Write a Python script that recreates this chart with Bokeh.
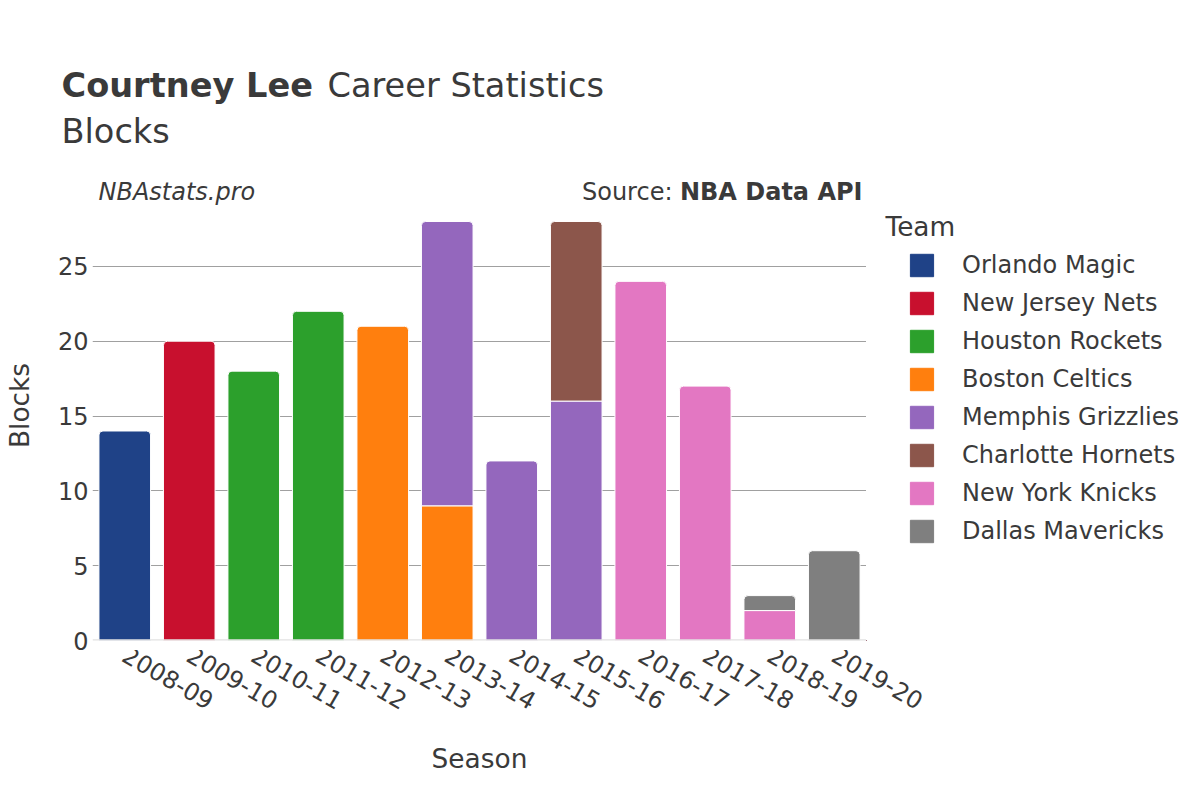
import math
from bokeh.plotting import figure
from bokeh.models import (ColumnDataSource, FactorRange, Range1d, Label, Legend, LegendItem,
                          Span, FixedTicker)
from bokeh.layouts import column, row
from bokeh.embed import file_html
from bokeh.resources import INLINE

seasons = ["2008-09", "2009-10", "2010-11", "2011-12", "2012-13", "2013-14",
           "2014-15", "2015-16", "2016-17", "2017-18", "2018-19", "2019-20"]
teams = ["Orlando Magic", "New Jersey Nets", "Houston Rockets", "Boston Celtics",
         "Memphis Grizzlies", "Charlotte Hornets", "New York Knicks", "Dallas Mavericks"]
colors = ["#1f4287", "#c8102e", "#2ca02c", "#ff7f0e", "#9467bd", "#8c564b", "#e377c2", "#7f7f7f"]

orlando_magic     = [14, 0, 0, 0, 0, 0, 0, 0, 0, 0, 0, 0]
new_jersey_nets   = [0, 20, 0, 0, 0, 0, 0, 0, 0, 0, 0, 0]
houston_rockets   = [0, 0, 18, 22, 0, 0, 0, 0, 0, 0, 0, 0]
boston_celtics    = [0, 0, 0, 0, 21, 9, 0, 0, 0, 0, 0, 0]
memphis_grizzlies = [0, 0, 0, 0, 0, 19, 12, 16, 0, 0, 0, 0]
charlotte_hornets = [0, 0, 0, 0, 0, 0, 0, 12, 0, 0, 0, 0]
new_york_knicks   = [0, 0, 0, 0, 0, 0, 0, 0, 24, 17, 2, 0]
dallas_mavericks  = [0, 0, 0, 0, 0, 0, 0, 0, 0, 0, 1, 6]

series = [orlando_magic, new_jersey_nets, houston_rockets, boston_celtics,
          memphis_grizzlies, charlotte_hornets, new_york_knicks, dallas_mavericks]

FONT = "DejaVu Sans"
TXT = "#3a3a3a"

# ---- layout geometry (page pixels) ----
TOTAL_W = 1184
HEADER_H = 170
LEFT = 92
FRAME_R = 866
ZERO_Y = 640
PLOT_TOP = 199
BODY_PAD = 10          # room below the frame for the "0" tick label
STRIP_H = 140
STRIP_FRAME = 1
BL = 0.37  # baseline correction (em)

segs = {"top": dict(x=[], bottom=[], top=[], color=[], team=[]),
        "mid": dict(x=[], bottom=[], top=[], color=[], team=[])}
totals = []
for i, s in enumerate(seasons):
    base = 0
    vals = [(t, series[j][i], colors[j]) for j, t in enumerate(teams) if series[j][i] > 0]
    for k, (t, v, c) in enumerate(vals):
        key = "top" if k == len(vals) - 1 else "mid"
        segs[key]["x"].append(s)
        segs[key]["bottom"].append(base)
        segs[key]["top"].append(base + v)
        segs[key]["color"].append(c)
        segs[key]["team"].append(t)
        base += v
    totals.append(base)

ymax = max(totals) * 1.0525
y_end = ymax * (ZERO_Y - HEADER_H) / (ZERO_Y - PLOT_TOP)


def label(text, x, y, size, style="normal", align="left", angle=0):
    return Label(x=x, y=y + BL * size, x_units="screen", y_units="screen", text=text,
                 text_font=FONT, text_font_size=f"{size}px", text_font_style=style,
                 text_color=TXT, text_align=align, text_baseline="alphabetic", angle=angle)


def blank(w, h, bottom=0):
    f = figure(width=w, height=h, output_backend="svg", toolbar_location=None,
               x_range=Range1d(0, 1), y_range=Range1d(0, 1),
               x_axis_location=None, y_axis_location=None,
               min_border_left=0, min_border_right=0, min_border_top=0,
               min_border_bottom=bottom)
    f.outline_line_color = None
    f.grid.visible = False
    return f


# ---- header ----
header = blank(TOTAL_W, HEADER_H)
header.add_layout(label("Courtney Lee", 61, HEADER_H - 97, 33.6, "bold"))
header.add_layout(label("Career Statistics", 327, HEADER_H - 97, 33.6))
header.add_layout(label("Blocks", 61, HEADER_H - 143, 33.6))

# ---- main chart ----
xr = FactorRange(factors=seasons, range_padding=0)
p = figure(width=FRAME_R, height=ZERO_Y - HEADER_H + BODY_PAD, output_backend="svg",
           toolbar_location=None, x_range=xr, y_range=Range1d(0, y_end), x_axis_location=None,
           min_border_left=LEFT, min_border_right=0, min_border_top=0,
           min_border_bottom=BODY_PAD)
p.outline_line_color = None

p.add_layout(Span(location=0, dimension="width", line_color="#e2e2e2", line_width=2.5))

p.vbar(x="x", bottom="bottom", top="top", width=0.8, source=ColumnDataSource(segs["mid"]),
       fill_color="color", line_color="white", line_width=1)
p.vbar(x="x", bottom="bottom", top="top", width=0.8, source=ColumnDataSource(segs["top"]),
       fill_color="color", line_color="white", line_width=1, border_radius=(4, 4, 0, 0))

p.yaxis.ticker = FixedTicker(ticks=[0, 5, 10, 15, 20, 25])
p.yaxis.major_label_text_font = FONT
p.yaxis.major_label_text_font_size = "24px"
p.yaxis.major_label_text_color = TXT
p.yaxis.major_label_standoff = 4
p.yaxis.major_tick_out = 0
p.yaxis.major_tick_in = 0
p.yaxis.axis_line_color = None
p.yaxis.major_tick_line_color = None
p.yaxis.minor_tick_line_color = None
p.yaxis.axis_label = "Blocks"
p.yaxis.axis_label_text_font = FONT
p.yaxis.axis_label_text_font_size = "26.4px"
p.yaxis.axis_label_text_font_style = "normal"
p.yaxis.axis_label_text_color = TXT
p.yaxis.axis_label_standoff = 20

p.xgrid.grid_line_color = None
p.ygrid.ticker = FixedTicker(ticks=[5, 10, 15, 20, 25])
p.ygrid.grid_line_color = "#a0a0a0"
p.ygrid.grid_line_width = 1

# frame-relative: x = X - LEFT, y = ZERO_Y - Y
p.add_layout(label("NBAstats.pro", 98 - LEFT, ZERO_Y - 200, 24, "italic"))
p.add_layout(label("NBA Data API", 862 - LEFT, ZERO_Y - 200, 24, "bold", align="right"))
p.add_layout(label("Source:", 672 - LEFT, ZERO_Y - 200, 24, align="right"))

# ---- legend panel ----
lf = blank(TOTAL_W - FRAME_R, ZERO_Y - HEADER_H + BODY_PAD, bottom=BODY_PAD)
items = []
for t, c in zip(teams, colors):
    r = lf.vbar(x=[-10], bottom=[-10], top=[-9], width=0.5, fill_color=c, line_color=c)
    items.append(LegendItem(label=t, renderers=[r]))

legend = Legend(items=items, location=(910 - FRAME_R - 3, ZERO_Y - 550),
                padding=0, margin=0, spacing=0, glyph_width=29, glyph_height=28,
                label_height=38, label_standoff=26,
                label_text_font=FONT, label_text_font_size="24px", label_text_color=TXT,
                border_line_color=None, background_fill_alpha=0)
lf.add_layout(legend, "center")
lf.add_layout(label("Team", 885 - FRAME_R, ZERO_Y - 236, 26.4))

# ---- x axis strip ----
strip = figure(width=TOTAL_W, height=STRIP_H, output_backend="svg", toolbar_location=None,
               x_range=xr, y_range=Range1d(0, 1), y_axis_location=None,
               min_border_left=LEFT, min_border_right=TOTAL_W - FRAME_R,
               min_border_top=0, min_border_bottom=STRIP_H - STRIP_FRAME)
strip.outline_line_color = None
strip.grid.visible = False
strip.xaxis.major_label_orientation = -math.pi / 6
strip.xaxis.major_label_text_font = FONT
strip.xaxis.major_label_text_font_size = "24px"
strip.xaxis.major_label_text_color = TXT
strip.xaxis.major_label_standoff = 1
strip.xaxis.major_tick_out = 0
strip.xaxis.major_tick_in = 0
strip.xaxis.axis_line_color = None
strip.xaxis.major_tick_line_color = None
strip.xaxis.minor_tick_line_color = None
strip.xaxis.axis_label = "Season"
strip.xaxis.axis_label_text_font = FONT
strip.xaxis.axis_label_text_font_size = "26.4px"
strip.xaxis.axis_label_text_font_style = "normal"
strip.xaxis.axis_label_text_color = TXT
strip.xaxis.axis_label_standoff = 22

layout = column(header, row(p, lf, spacing=0), row(strip, spacing=0), spacing=0)
open("out.html", "w").write(file_html(layout, INLINE))
